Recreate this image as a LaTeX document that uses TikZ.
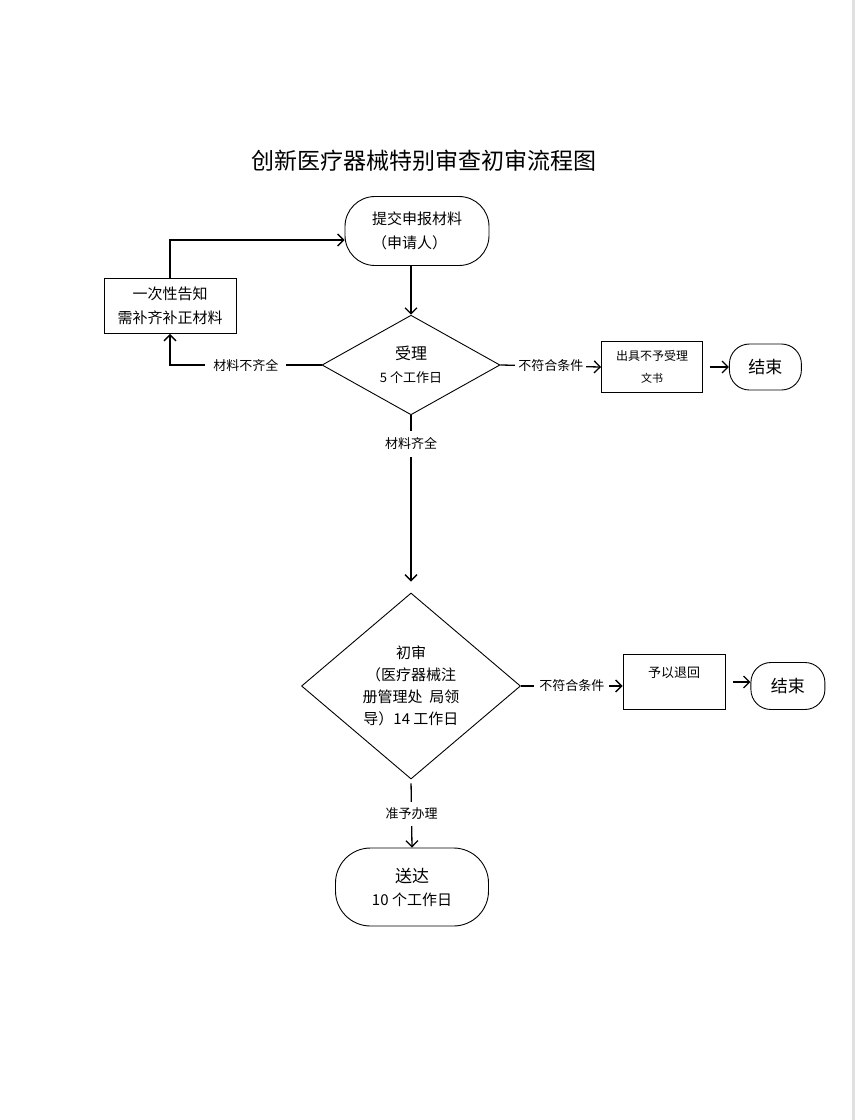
\documentclass[tikz,border=0pt]{standalone}
\usepackage{fontspec}
\setmainfont{Noto Sans CJK SC}
\usetikzlibrary{shapes.geometric,arrows.meta,positioning}

\begin{document}
\begin{tikzpicture}[x=1pt, y=-1pt, line width=0.9pt, every node/.style={font=\fontsize{15}{24}\selectfont}]
\tikzstyle{stadium} = [rectangle, rounded corners=30pt, minimum width=144pt, minimum height=69pt, align=left, draw=black]
\tikzstyle{proc} = [rectangle, minimum width=132pt, minimum height=55pt, align=center, draw=black]
\tikzstyle{decision} = [diamond, inner sep=0pt, align=center, draw=black]
\tikzstyle{finish} = [rectangle, rounded corners=20pt, minimum width=72pt, minimum height=46pt, draw=black, font=\fontsize{17}{20}\selectfont]
\tikzstyle{cond} = [fill=white, inner xsep=5pt, inner ysep=6pt, font=\fontsize{13}{15}\selectfont]
\tikzstyle{arrow} = [line width=1.3pt, -{Straight Barb[length=6pt, width=12pt]}]

\useasboundingbox (0,0) rectangle (855,1120);
\fill[black!12] (852,0) rectangle (855,1120);

\node (title) at (424,161) [font=\fontsize{23}{26}\selectfont] {创新医疗器械特别审查初审流程图};

\node (submit) at (417,231) [stadium] {\raisebox{-3pt}{提交申报材料}\\\raisebox{-3pt}{（申请人）}};
\node (accept) at (411,365) [decision, minimum width=178pt, minimum height=94pt, font=\fontsize{13}{23}\selectfont] {{\fontsize{16}{20}\selectfont 受理}\\5 个工作日};
\node (notice) at (170,306) [proc] {一次性告知\\需补齐补正材料};
\node (reject) at (652,367) [proc, minimum width=101pt, minimum height=51pt, font=\fontsize{12}{22}\selectfont] {出具不予受理\\{\fontsize{11}{13}\selectfont 文书}};
\node (end1) [finish, right=26pt of reject] {结束};

\node (review) at (411,686) [decision, minimum width=219pt, minimum height=186pt, font=\fontsize{15}{22}\selectfont] {初审\\（医疗器械注\\册管理处\ \ 局领\\导）14 工作日};
\node (return) at (674,682) [proc, minimum width=102pt, minimum height=55pt, font=\fontsize{13}{20}\selectfont] {予以退回\\\mbox{}};
\node (end2) [finish, right=25pt of return, yshift=-4pt, minimum width=74pt, minimum height=47pt] {结束};
\node (deliver) at (412,887) [stadium, align=center, minimum width=153pt, minimum height=78pt, rounded corners=35pt, font=\fontsize{15}{23}\selectfont] {{\fontsize{17}{20}\selectfont 送达}\\10 个工作日};

\draw[arrow] (accept.north |- submit.south) -- (accept.north);
\draw[arrow] (accept.west) -| node[cond, pos=0.25, inner xsep=8pt] {材料不齐全} (notice.south);
\draw[arrow] (notice.north) |- ([yshift=-9pt]submit.west);
\draw[arrow] (accept.east) -- node[cond, inner xsep=3pt] {不符合条件} (reject.west);
\draw[arrow, shorten <=7pt] (reject.east) -- (reject.east -| end1.west);
\draw[arrow, shorten >=11pt] (accept.south) -- node[cond, pos=0.16, inner ysep=7pt] {材料齐全} (review.north);
\draw[arrow] (review.east) -- node[cond] {不符合条件} (review.east -| return.west);
\draw[arrow, shorten <=8pt] (return.east) -- (return.east -| end2.west);
\draw[arrow, shorten <=4pt] (review.south) -- node[cond] {准予办理} (deliver.north);
\end{tikzpicture}
\end{document}
